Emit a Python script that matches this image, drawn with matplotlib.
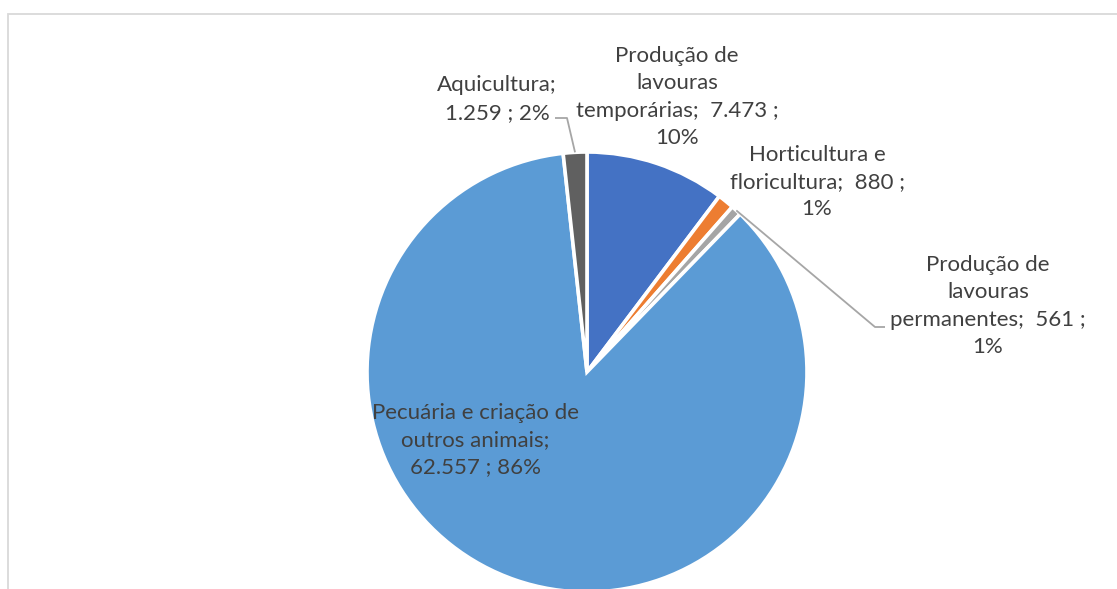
import matplotlib
matplotlib.use("Agg")
import matplotlib.pyplot as plt
from matplotlib.patches import Rectangle
import numpy as np

# ---- data ----
categories = ["Produção de lavouras temporárias", "Horticultura e floricultura",
              "Produção de lavouras permanentes", "Pecuária e criação de outros animais",
              "Aquicultura"]
values = [7473, 880, 561, 62557, 1259]
label_lines = [["Produção de", "lavouras", "temporárias;  {v} ;", "{p}"],
               ["Horticultura e", "floricultura;  {v} ;", "{p}"],
               ["Produção de", "lavouras", "permanentes;  {v} ;", "{p}"],
               ["Pecuária e criação de", "outros animais;", "{v} ; {p}"],
               ["Aquicultura;", "{v} ; {p}"]]
colors = ["#4472C4", "#ED7D31", "#A5A5A5", "#5B9BD5", "#606060"]

W, H = 1117, 589
fig = plt.figure(figsize=(W / 100, H / 100), dpi=100)
ax = fig.add_axes([0, 0, 1, 1])

cx, cy, R = 587, H - 372, 220
wedges, _ = ax.pie(values, colors=colors, startangle=90, counterclock=False,
                   center=(cx, cy), radius=R,
                   wedgeprops=dict(edgecolor="white", linewidth=2.6))
ax.set_xlim(0, W)
ax.set_ylim(0, H)
ax.set_aspect("equal")
ax.axis("off")

total = sum(values)
txt_color = "#404040"
font = dict(family=["Lato", "DejaVu Sans"], size=16, color=txt_color)

# label centers (pixel, top-origin)
label_pos = [(677, 97), (817, 182), (988, 306), (475, 440), (497, 99)]

for i, (v, lines) in enumerate(zip(values, label_lines)):
    vs = f"{v:,}".replace(",", ".")
    ps = f"{round(v / total * 100)}%"
    text = "\n".join(l.format(v=vs, p=ps) for l in lines)
    x, y = label_pos[i]
    ax.text(x, H - y, text, ha="center", va="center", linespacing=1.45, **font)

def edge_point(w):
    th = np.deg2rad((w.theta1 + w.theta2) / 2)
    return cx + R * np.cos(th), cy + R * np.sin(th)

lc = "#A6A6A6"
# Aquicultura leader
ex, ey = edge_point(wedges[4])
ax.plot([555, 567, ex], [H - 118, H - 118, ey], color=lc, lw=1.3, solid_capstyle="butt")
# Permanentes leader
ex, ey = edge_point(wedges[2])
ax.plot([ex, 875, 885], [ey, H - 327, H - 327], color=lc, lw=1.3, solid_capstyle="butt")

# chart area border
fig.patches.append(Rectangle((7.5 / W, -0.1), 1.2, (H - 14.5) / H + 0.1,
                             transform=fig.transFigure, fill=False,
                             edgecolor="#D9D9D9", linewidth=1.3))

fig.savefig("out.png", dpi=100)
